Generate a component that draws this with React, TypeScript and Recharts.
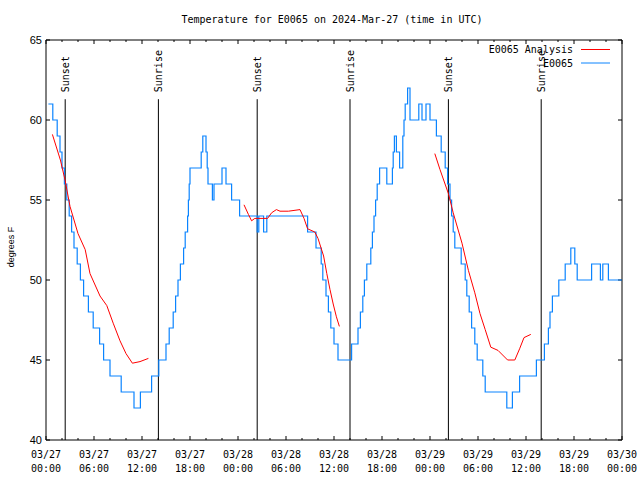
import {
  LineChart,
  Line,
  XAxis,
  YAxis,
  ReferenceLine,
  ReferenceArea,
} from 'recharts'

const chartTitle = 'Temperature for E0065 on 2024-Mar-27 (time in UTC)'
const yAxisTitle = 'degrees F'
const obsName = 'E0065'
const analysisName = 'E0065 Analysis'

// x is hours since 03/27 00:00 UTC
const hourTicks = [0, 6, 12, 18, 24, 30, 36, 42, 48, 54, 60, 66, 72]
const hourTickDates = ['03/27', '03/27', '03/27', '03/27', '03/28', '03/28', '03/28', '03/28', '03/29', '03/29', '03/29', '03/29', '03/30']
const hourTickTimes = ['00:00', '06:00', '12:00', '18:00', '00:00', '06:00', '12:00', '18:00', '00:00', '06:00', '12:00', '18:00', '00:00']
const minorHourTicks = [2, 4, 8, 10, 14, 16, 20, 22, 26, 28, 32, 34, 38, 40, 44, 46, 50, 52, 56, 58, 62, 64, 68, 70]
const degreeTicks = [40, 45, 50, 55, 60, 65]

const sunHours = [2.4, 14.05, 26.4, 38.0, 50.3, 61.9]
const sunNames = ['Sunset', 'Sunrise', 'Sunset', 'Sunrise', 'Sunset', 'Sunrise']

// observed temps, [hour, degF] at each change (drawn as steps)
const obsDay1: [number, number][] = [
  [0.3, 61], [0.85, 60], [1.4, 59], [1.75, 58], [2.0, 57], [2.3, 56], [2.6, 55],
  [2.9, 54], [3.2, 53], [3.5, 52], [3.9, 51], [4.3, 50], [4.7, 49], [5.3, 48],
  [5.9, 47], [6.7, 46], [7.2, 45], [8.0, 44], [9.4, 43], [11.0, 42], [11.8, 43],
  [13.2, 44], [14.1, 45], [15.0, 46], [15.4, 47], [15.9, 48], [16.2, 49],
  [16.5, 50], [16.8, 51], [17.2, 52], [17.4, 53], [17.7, 54], [17.8, 55],
  [17.9, 56], [18.0, 57], [19.4, 58], [19.6, 59], [20.0, 58], [20.15, 57],
  [20.25, 56], [20.8, 55], [21.0, 56], [22.0, 57], [22.5, 56], [23.2, 55],
]
const obsDay2: [number, number][] = [
  [24.2, 54], [26.4, 53], [26.6, 54], [27.2, 53], [27.6, 54], [32.7, 53],
  [33.75, 52], [34.4, 51], [34.6, 50], [35.0, 49], [35.3, 48], [35.6, 47],
  [36.0, 46], [36.5, 45], [38.2, 46], [39.0, 47], [39.3, 48], [39.6, 49],
  [39.8, 50], [40.1, 51], [40.6, 52], [40.8, 53], [41.0, 54], [41.2, 55],
  [41.4, 56], [41.7, 57], [42.6, 56], [43.3, 57], [43.4, 58], [43.55, 59],
  [43.8, 58], [44.2, 57], [44.6, 59], [44.75, 60], [44.9, 61], [45.2, 62],
  [45.5, 60], [46.6, 61], [47.0, 60], [47.5, 61],
]
const obsDay3: [number, number][] = [
  [48.0, 60], [48.8, 59], [49.4, 58], [49.9, 57], [50.2, 56], [50.5, 55],
  [50.7, 54], [50.9, 53], [51.1, 52], [51.9, 51], [52.4, 50], [52.6, 49],
  [52.9, 48], [53.2, 47], [53.6, 46], [53.9, 45], [54.6, 44], [54.9, 43],
  [57.6, 42], [58.3, 43], [59.2, 44], [61.3, 45], [62.3, 46], [62.8, 47],
  [63.0, 48], [63.3, 49], [64.1, 50], [64.9, 51], [65.6, 52], [66.1, 51],
  [66.4, 50], [68.2, 51], [69.3, 50], [69.6, 51], [70.3, 50], [72, 50],
]

// analysis runs, [hour, degF]
const analysisRun1: [number, number][] = [
  [0.8, 59.1], [1.8, 57.5], [2.4, 56.2], [3.0, 54.6], [4.0, 52.9], [4.9, 51.9],
  [5.5, 50.4], [6.75, 49.0], [7.6, 48.4], [8.4, 47.3], [9.25, 46.2], [10.0, 45.4],
  [10.8, 44.8], [11.75, 44.9], [12.8, 45.1],
]
const analysisRun2: [number, number][] = [
  [24.75, 54.7], [25.3, 54.1], [25.7, 53.7], [26.1, 53.85], [27.7, 53.85],
  [28.2, 54.2], [28.8, 54.4], [29.25, 54.3], [30.3, 54.3], [31.75, 54.4],
  [32.25, 53.85], [32.7, 53.2], [33.6, 53.0], [34.0, 52.6], [34.7, 51.5],
  [35.1, 50.4], [35.5, 49.4], [35.9, 48.5], [36.3, 47.7], [36.67, 47.1],
]
const analysisRun3: [number, number][] = [
  [48.6, 57.9], [49.25, 56.9], [50.3, 55.4], [50.9, 54.2], [52.0, 52.3],
  [52.8, 50.6], [53.6, 49.2], [54.25, 47.9], [54.9, 46.9], [55.6, 45.8],
  [56.5, 45.6], [57.7, 45.0], [58.6, 45.0], [59.2, 45.7], [59.75, 46.4],
  [60.6, 46.6],
]

const toRows = (pts: [number, number][]) => pts.map(([h, v]) => ({ h, v }))

const obsRows = toRows([...obsDay1, ...obsDay2, ...obsDay3])
const analysisRuns = [analysisRun1, analysisRun2, analysisRun3].map(toRows)

const mono = '"DejaVu Sans Mono", monospace'
const sans = '"Liberation Sans", Arial, sans-serif'
const RED = '#ff0000'
const BLUE = '#0a84ff'

function HourTick({ x, y, payload }: any) {
  const i = hourTicks.indexOf(payload.value)
  return (
    <text x={x} y={y} textAnchor="middle" fontFamily={mono} fontSize={10} fill="#000">
      <tspan x={x} dy={18}>{hourTickDates[i]}</tspan>
      <tspan x={x} dy={14}>{hourTickTimes[i]}</tspan>
    </text>
  )
}

function DegreeTick({ y, payload }: any) {
  return (
    <text x={42} y={y + 4} textAnchor="end" fontFamily={sans} fontSize={11} fill="#000">
      {payload.value}
    </text>
  )
}

function sunLabel(name: string) {
  return (props: any) => {
    const vb = props.viewBox || {}
    const x = vb.x + 4
    const y = vb.y - 7
    return (
      <text
        x={x}
        y={y}
        transform={`rotate(-90 ${x} ${y})`}
        fontFamily={mono}
        fontSize={10}
        fill="#000"
      >
        {name}
      </text>
    )
  }
}

export default function App() {
  const tickH = 4 / 16 // 4px in degF
  const minorH = 2 / 16
  const tickW = 4 / 8 // 4px in hours
  const legendRows = [
    { name: analysisName, color: RED },
    { name: obsName, color: BLUE },
  ]
  return (
    <div style={{ position: 'absolute', left: 0, top: 0, width: 640, height: 480, background: '#fff' }}>
      <LineChart width={640} height={480} margin={{ top: 40, right: 18, left: 0, bottom: 0 }}>
        <text x={332} y={23} textAnchor="middle" fontFamily={mono} fontSize={10} fill="#000">
          {chartTitle}
        </text>
        <text
          x={14}
          y={247}
          transform="rotate(-90 14 247)"
          textAnchor="middle"
          fontFamily={sans}
          fontSize={9}
          fill="#000"
        >
          {yAxisTitle}
        </text>
        <XAxis
          type="number"
          dataKey="h"
          domain={[0, 72]}
          ticks={hourTicks}
          interval={0}
          height={40}
          tickLine={false}
          axisLine={false}
          tickSize={0}
          tickMargin={0}
          tick={<HourTick />}
          allowDataOverflow
        />
        <YAxis
          type="number"
          domain={[40, 65]}
          ticks={degreeTicks}
          interval={0}
          width={46}
          tickLine={false}
          axisLine={false}
          tick={<DegreeTick />}
          allowDataOverflow
        />
        <ReferenceArea x1={0} x2={72} y1={40} y2={65} fill="none" stroke="#000" strokeWidth={1} />
        {hourTicks.map((h) => (
          <ReferenceLine key={`b${h}`} segment={[{ x: h, y: 40 }, { x: h, y: 40 + tickH }]} stroke="#000" />
        ))}
        {hourTicks.map((h) => (
          <ReferenceLine key={`t${h}`} segment={[{ x: h, y: 65 }, { x: h, y: 65 - tickH }]} stroke="#000" />
        ))}
        {minorHourTicks.map((h) => (
          <ReferenceLine key={`bm${h}`} segment={[{ x: h, y: 40 }, { x: h, y: 40 + minorH }]} stroke="#000" />
        ))}
        {minorHourTicks.map((h) => (
          <ReferenceLine key={`tm${h}`} segment={[{ x: h, y: 65 }, { x: h, y: 65 - minorH }]} stroke="#000" />
        ))}
        {degreeTicks.map((v) => (
          <ReferenceLine key={`l${v}`} segment={[{ x: 0, y: v }, { x: tickW, y: v }]} stroke="#000" />
        ))}
        {degreeTicks.map((v) => (
          <ReferenceLine key={`r${v}`} segment={[{ x: 72 - tickW, y: v }, { x: 72, y: v }]} stroke="#000" />
        ))}
        {sunHours.map((h, i) => (
          <ReferenceLine
            key={`s${i}`}
            segment={[{ x: h, y: 40 }, { x: h, y: 61.3 }]}
            stroke="#000"
            label={sunLabel(sunNames[i])}
          />
        ))}
        <Line
          data={obsRows}
          dataKey="v"
          type="stepAfter"
          stroke={BLUE}
          strokeWidth={1.2}
          dot={false}
          isAnimationActive={false}
        />
        {analysisRuns.map((rows, i) => (
          <Line
            key={`a${i}`}
            data={rows}
            dataKey="v"
            type="linear"
            stroke={RED}
            strokeWidth={1}
            dot={false}
            isAnimationActive={false}
          />
        ))}
        <g>
          {legendRows.map((r, i) => (
            <g key={r.name}>
              <text x={573} y={53 + i * 13.5} textAnchor="end" fontFamily={mono} fontSize={10} fill="#000">
                {r.name}
              </text>
              <line x1={581} x2={610} y1={49.5 + i * 13.5} y2={49.5 + i * 13.5} stroke={r.color} />
            </g>
          ))}
        </g>
      </LineChart>
    </div>
  )
}
